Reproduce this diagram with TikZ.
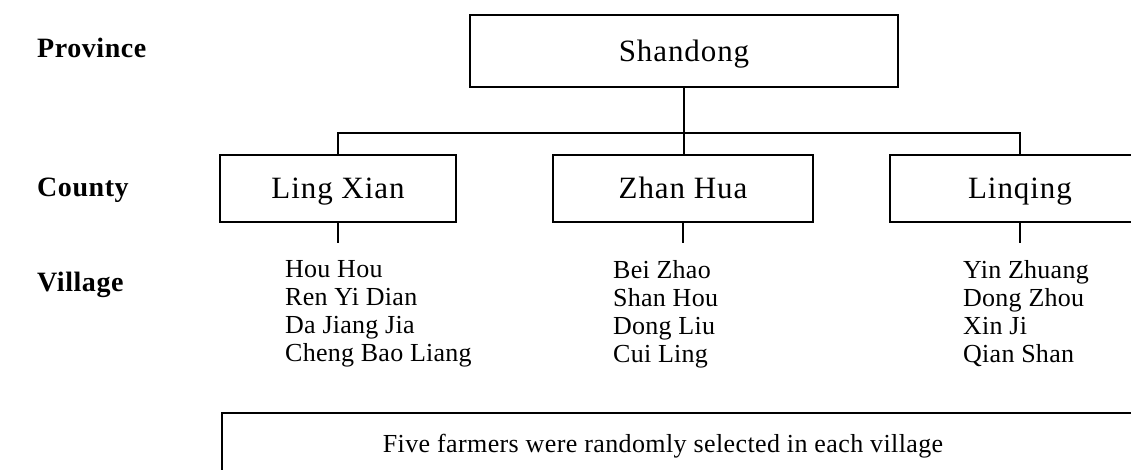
\documentclass[tikz,border=0pt]{standalone}
\usepackage{fontspec}
\usetikzlibrary{calc}
\setmainfont{Liberation Serif}
\newfontfamily\boxfont[LetterSpace=3]{Liberation Serif}
\newfontfamily\listfont[LetterSpace=1]{Liberation Serif}
\newfontfamily\notefont[LetterSpace=1.5]{Liberation Serif}
\newfontfamily\levelfont[LetterSpace=2]{Liberation Serif}
\begin{document}
\begin{tikzpicture}[x=1pt,y=-1pt,
  frame/.style={draw, line width=1.6pt},
  unitbox/.style={frame, minimum height=67pt, inner sep=0pt,
    text height=24pt, text depth=4pt,
    font=\boxfont\fontsize{31}{36}\selectfont},
  levellabel/.style={anchor=west, inner sep=0pt,
    font=\levelfont\bfseries\fontsize{28}{32}\selectfont},
  villages/.style={anchor=north west, align=left, inner sep=0pt,
    font=\listfont\fontsize{26}{28}\selectfont},
  link/.style={line width=1.6pt}]
\useasboundingbox (0,0) rectangle (1131,469);
\clip (0,0) rectangle (1131,469);

% level labels
\node[levellabel] (lprov) at (37,48) {Province};
\node[levellabel] (lcounty) at (37,190) {County};
\node[levellabel] (lvillage) at (37,285) {Village};

% province and counties
\node[unitbox, minimum width=428pt, minimum height=72pt] (sd) at (684,51) {Shandong};
\node[unitbox, minimum width=236pt] (lx) at (338,188.5) {Ling Xian};
\node[unitbox, minimum width=260pt] (zh) at (683,188.5) {Zhan Hua};
\node[unitbox, minimum width=260pt] (lq) at (1020,188.5) {Linqing};

% tree links
\coordinate (bar) at (0,133);
\draw[link] (sd.south) -- (sd.south |- zh.north);
\draw[link] (lx.north) |- (lq.north |- bar) -- (lq.north);

% stubs under each county
\coordinate (lxend) at ($(lx.south)+(0,20)$);
\coordinate (zhend) at ($(zh.south)+(0,20)$);
\coordinate (lqend) at ($(lq.south)+(0,20)$);
\draw[link] (lx.south) -- (lxend);
\draw[link] (zh.south) -- (zhend);
\draw[link] (lq.south) -- (lqend);

% villages
\node[villages] (vlx) at (285,260) {Hou Hou\\Ren Yi Dian\\Da Jiang Jia\\Cheng Bao Liang};
\node[villages] (vzh) at (613,260) {Bei Zhao\\Shan Hou\\Dong Liu\\Cui Ling};
\node[villages] (vlq) at (963,260) {Yin Zhuang\\Dong Zhou\\Xin Ji\\Qian Shan};

% sampling note
\draw[frame] (222,413) rectangle (1200,540);
\node[font=\notefont\fontsize{26}{30}\selectfont, inner sep=0pt] (note) at (663,446)
  {Five farmers were randomly selected in each village};
\end{tikzpicture}
\end{document}
